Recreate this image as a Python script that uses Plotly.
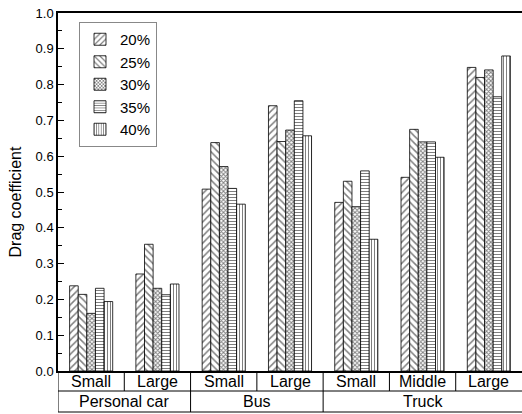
import plotly.graph_objects as go

sub_labels = ["Small", "Large", "Small", "Large", "Small", "Middle", "Large"]
group_labels = ["Personal car", "Bus", "Truck"]
group_spans = [(0, 1), (2, 3), (4, 6)]
series_names = ["20%", "25%", "30%", "35%", "40%"]
v20 = [0.238, 0.271, 0.508, 0.741, 0.471, 0.541, 0.848]
v25 = [0.214, 0.354, 0.638, 0.641, 0.530, 0.675, 0.820]
v30 = [0.161, 0.231, 0.571, 0.673, 0.459, 0.640, 0.841]
v35 = [0.231, 0.213, 0.510, 0.755, 0.559, 0.640, 0.766]
v40 = [0.194, 0.243, 0.466, 0.657, 0.368, 0.597, 0.880]
series_values = [v20, v25, v30, v35, v40]
patterns = ["/", "\\", "x", "-", "|"]
pat_sizes = [5, 5, 3, 3, 3]
pat_solid = [0.3, 0.3, 0.55, 0.35, 0.35]
y_ticks = [0.0, 0.1, 0.2, 0.3, 0.4, 0.5, 0.6, 0.7, 0.8, 0.9, 1.0]

FONT = "Liberation Sans, Arial, sans-serif"
xs = list(range(len(sub_labels)))

fig = go.Figure()
for name, vals, pat, ps, sol in zip(series_names, series_values, patterns, pat_sizes, pat_solid):
    fig.add_trace(go.Bar(
        x=xs, y=vals, name=name,
        marker=dict(color="white", line=dict(color="black", width=0.8),
                    pattern=dict(shape=pat, fgcolor="black", bgcolor="white",
                                 size=ps, solidity=sol, fillmode="overlay")),
    ))

W, H = 522, 414
top, bottom = 13, 371          # pixels of y=1.0 and y=0.0
left = 58                      # pixel of the y axis
plot_h = bottom - top
plot_w = W - left
row1 = -(391 - bottom) / plot_h
row2 = -(412 - bottom) / plot_h
n = len(sub_labels)

shapes = []
for yy in (row1, row2):
    shapes.append(dict(type="line", xref="paper", yref="paper", x0=0, x1=1, y0=yy, y1=yy,
                       line=dict(color="black", width=1)))
for i in range(n):
    shapes.append(dict(type="line", xref="x", yref="paper", x0=i - 0.5, x1=i - 0.5, y0=0, y1=row1,
                       line=dict(color="black", width=1)))
bounds = [group_spans[0][0] - 0.5] + [s[1] + 0.5 for s in group_spans[:-1]]
for b in bounds:
    shapes.append(dict(type="line", xref="x", yref="paper", x0=b, x1=b, y0=row1, y1=row2,
                       line=dict(color="black", width=1)))

annotations = []
for i, lab in enumerate(sub_labels):
    annotations.append(dict(x=i, y=row1 / 2, xref="x", yref="paper", text=lab, showarrow=False,
                            font=dict(family=FONT, size=16, color="black"), yanchor="middle"))
for lab, (a, b) in zip(group_labels, group_spans):
    annotations.append(dict(x=(a + b) / 2, y=(row1 + row2) / 2, xref="x", yref="paper", text=lab,
                            showarrow=False, font=dict(family=FONT, size=16, color="black"),
                            yanchor="middle"))
annotations.append(dict(x=(15 - left) / plot_w, y=(bottom - 202.5) / plot_h, xref="paper", yref="paper",
                        text="Drag coefficient", textangle=-90, showarrow=False,
                        font=dict(family=FONT, size=16, color="black"),
                        xanchor="center", yanchor="middle"))

fig.update_layout(
    width=W, height=H,
    margin=dict(l=left, r=0, t=top, b=H - bottom, pad=0),
    paper_bgcolor="white", plot_bgcolor="white",
    barmode="group", bargap=0.35, bargroupgap=0,
    font=dict(family=FONT, color="black"),
    showlegend=True,
    legend=dict(x=(79 - left) / plot_w, y=(bottom - 22) / plot_h, xanchor="left", yanchor="top",
                bordercolor="#888888", borderwidth=1, bgcolor="white",
                font=dict(family=FONT, size=15, color="black"), tracegroupgap=0),
    shapes=shapes, annotations=annotations,
    xaxis=dict(range=[-0.5, n - 0.5], showticklabels=False, ticks="",
               showline=True, linecolor="black", linewidth=1.5, mirror=True,
               showgrid=False, zeroline=False, automargin=False),
    yaxis=dict(range=[0, 1], tickvals=y_ticks, tickformat=".1f", ticks="inside", ticklen=6,
               tickcolor="black", tickwidth=1.2, ticklabeloverflow="allow",
               minor=dict(ticks="inside", ticklen=4, dtick=0.05, tickcolor="black", tickwidth=1),
               showline=True, linecolor="black", linewidth=1.5, showgrid=False, zeroline=False,
               automargin=False,
               tickfont=dict(family=FONT, size=13, color="black")),
)

fig.write_html("out.html", config={"displayModeBar": False},
               post_script="document.body.style.margin='0';document.body.style.overflow='hidden';")
